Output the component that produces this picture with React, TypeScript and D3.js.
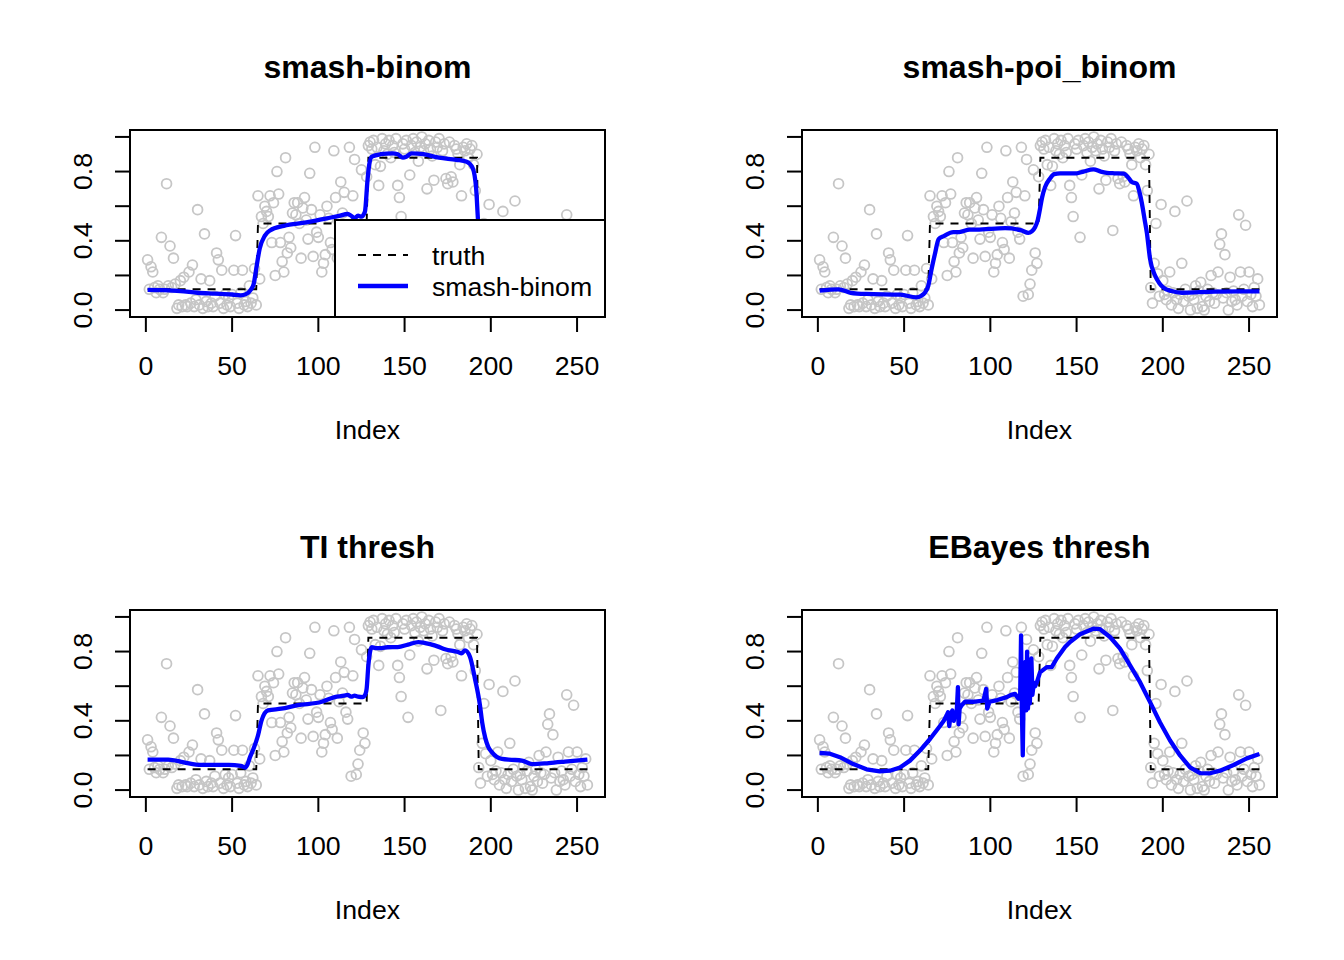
import React, { useEffect, useRef } from 'react'
import * as d3 from 'd3'

const obsBlock1 = [
  0.29, 0.12, 0.25, 0.22, 0.13, 0.10, 0.14, 0.12, 0.42, 0.10,
  0.12, 0.73, 0.14, 0.37, 0.13, 0.30, 0.15, 0.01, 0.03, 0.17,
  0.02, 0.19, 0.03, 0.02, 0.22, 0.04, 0.26, 0.02, 0.06, 0.58,
  0.03, 0.18, 0.01, 0.44, 0.05, 0.02, 0.17, 0.04, 0.02, 0.08,
  0.33, 0.29, 0.04, 0.23, 0.01, 0.09, 0.03, 0.07, 0.02, 0.09,
  0.23, 0.43, 0.04, 0.01, 0.10, 0.23, 0.03, 0.05, 0.02, 0.14,
  0.04, 0.07, 0.24, 0.03,
]
const obsBlock2 = [
  0.66, 0.18, 0.54, 0.50, 0.60, 0.57, 0.54, 0.66, 0.39, 0.62,
  0.20, 0.80, 0.67, 0.39, 0.28, 0.22, 0.88, 0.33, 0.42, 0.36,
  0.56, 0.62, 0.55, 0.62, 0.50, 0.30, 0.59, 0.65, 0.52, 0.41,
  0.79, 0.58, 0.31, 0.94, 0.45, 0.42, 0.55, 0.22, 0.27, 0.32,
  0.60, 0.53, 0.39, 0.35, 0.92, 0.65, 0.30, 0.51, 0.74, 0.56,
  0.68, 0.45, 0.41, 0.94, 0.08, 0.66, 0.87, 0.09, 0.15, 0.23,
  0.81, 0.33, 0.27, 0.77,
]
const obsBlock3 = [
  0.95, 0.97, 0.93, 0.98, 0.84, 0.94, 0.72, 0.83, 0.99, 0.92,
  0.96, 0.90, 0.98, 0.88, 0.95, 0.91, 0.99, 0.72, 0.65, 0.54,
  0.96, 0.93, 0.98, 0.42, 0.78, 0.95, 0.99, 0.91, 0.97, 0.86,
  0.94, 1.00, 0.92, 0.96, 0.70, 0.98, 0.93, 0.89, 0.75, 0.97,
  0.94, 0.99, 0.46, 0.92, 0.96, 0.76, 0.73, 0.97, 0.77, 0.74,
  0.95, 0.93, 0.90, 0.84, 0.66, 0.94, 0.92, 0.96, 0.88, 0.93,
  0.95, 0.84, 0.69, 0.90,
]
const obsBlock4 = [
  0.13, 0.04, 0.27, 0.50, 0.21, 0.08, 0.61, 0.17, 0.09, 0.06,
  0.11, 0.22, 0.03, 0.10, 0.57, 0.06, 0.01, 0.09, 0.27, 0.05,
  0.12, 0.63, 0.08, 0.00, 0.09, 0.06, 0.14, 0.01, 0.11, 0.16,
  0.02, 0.00, 0.08, 0.12, 0.05, 0.20, 0.10, 0.04, 0.09, 0.22,
  0.38, 0.44, 0.07, 0.32, 0.10, 0.00, 0.19, 0.05, 0.11, 0.06,
  0.03, 0.55, 0.22, 0.08, 0.12, 0.49, 0.05, 0.22, 0.09, 0.02,
  0.13, 0.08, 0.18, 0.03,
]
const observed = [...obsBlock1, ...obsBlock2, ...obsBlock3, ...obsBlock4]

// true step function: one level per block of 64
const truthLevels = [0.12, 0.5, 0.88, 0.12]
const blockSize = 64

const xTicks = [0, 50, 100, 150, 200, 250]
const yTicks = [0, 0.2, 0.4, 0.6, 0.8, 1.0]
const yLabels = [0, 0.4, 0.8]

// fitted curves as [index, value] knots
const fitSmashBinom: [number, number][] = [
  [1, 0.117], [10, 0.115], [20, 0.11], [30, 0.1], [40, 0.095], [50, 0.09], [55, 0.085],
  [58, 0.092], [61, 0.12], [62.5, 0.15], [64, 0.24], [66, 0.355], [69, 0.43], [72, 0.46],
  [80, 0.486], [93, 0.506], [105, 0.53], [112, 0.544], [117, 0.555], [119, 0.545],
  [121, 0.53], [123, 0.545], [125, 0.54], [127, 0.568], [128.5, 0.75], [129.5, 0.84],
  [131, 0.886], [136, 0.9], [143, 0.905], [146, 0.9], [149, 0.88], [151, 0.885],
  [154, 0.905], [161, 0.9], [170, 0.88], [180, 0.868], [186, 0.857], [189.5, 0.82],
  [191.5, 0.7], [192.5, 0.53], [194, 0.32], [197, 0.18], [202, 0.13], [212, 0.11],
  [230, 0.105], [256, 0.105],
]
const fitSmashPoiBinom: [number, number][] = [
  [1, 0.112], [12, 0.12], [19, 0.1], [28, 0.093], [48, 0.089], [57, 0.073], [60, 0.083],
  [62, 0.1], [64, 0.14], [66, 0.24], [68, 0.33], [70, 0.41], [73, 0.427], [78.5, 0.45],
  [82, 0.45], [88, 0.465], [92, 0.465], [108.5, 0.473], [118, 0.46], [122, 0.446],
  [124, 0.455], [126, 0.48], [127.5, 0.52], [128.8, 0.585], [130, 0.65], [131.7, 0.71],
  [134.6, 0.76], [137, 0.785], [140.4, 0.79], [150, 0.79], [154, 0.8], [159.8, 0.813],
  [164, 0.8], [167.5, 0.793], [172, 0.79], [177.2, 0.788], [180, 0.765], [182, 0.74],
  [184.9, 0.73], [186.5, 0.68], [187.8, 0.62], [189.5, 0.52], [190.7, 0.45],
  [192.6, 0.295], [195.5, 0.2], [198, 0.155], [200.4, 0.13], [205, 0.11], [211, 0.1],
  [230, 0.106], [256, 0.108],
]
const fitTIThresh: [number, number][] = [
  [1, 0.176], [13, 0.176], [22, 0.16], [32, 0.145], [48, 0.145], [55, 0.14], [57.5, 0.13],
  [59, 0.15], [60, 0.18], [62, 0.228], [65, 0.315], [67, 0.4], [70.8, 0.46], [78.5, 0.47],
  [88, 0.49], [102, 0.51], [109.5, 0.537], [115, 0.545], [117, 0.55], [119, 0.54],
  [121, 0.545], [123, 0.54], [125.9, 0.537], [127.5, 0.56], [128, 0.585], [129, 0.72],
  [130, 0.8], [131, 0.826], [133, 0.82], [136.7, 0.82], [140, 0.825], [146, 0.826],
  [152, 0.84], [158, 0.855], [165.7, 0.84], [169, 0.83], [173.4, 0.813], [181, 0.797],
  [183, 0.79], [185, 0.807], [187.9, 0.77], [190.8, 0.643], [193.7, 0.49], [195, 0.39],
  [196.8, 0.3], [198.5, 0.25], [200.7, 0.218], [206.5, 0.18], [212, 0.175], [218, 0.17],
  [224, 0.15], [233.6, 0.156], [243, 0.164], [256, 0.176],
]
const fitEBayesThresh: [number, number][] = [
  [1, 0.214], [7, 0.21], [12.8, 0.19], [20.5, 0.15], [28.2, 0.12], [35.9, 0.108],
  [41.8, 0.112], [47.6, 0.13], [53.4, 0.17], [59.2, 0.228], [65, 0.295], [70.8, 0.37],
  [73, 0.4], [74.6, 0.43], [75.5, 0.45], [76.2, 0.37], [77, 0.44], [78, 0.46],
  [78.8, 0.4], [79.5, 0.44], [80.5, 0.45], [81.2, 0.595], [81.6, 0.38], [82.2, 0.47],
  [83.4, 0.49], [85.3, 0.51], [90, 0.51], [96, 0.517], [97.6, 0.585], [98.2, 0.47],
  [99.5, 0.51], [104, 0.52], [109.5, 0.537], [112, 0.55], [114.3, 0.556], [116.3, 0.527],
  [117.3, 0.55], [117.8, 0.894], [118.2, 0.5], [118.8, 0.2], [119.3, 0.55], [119.8, 0.47],
  [120.3, 0.74], [120.8, 0.46], [121.3, 0.8], [121.8, 0.47], [122.4, 0.6], [122.9, 0.5],
  [123.8, 0.76], [124.4, 0.55], [125.2, 0.62], [126, 0.6], [126.9, 0.62], [128.8, 0.68],
  [132.7, 0.71], [135.6, 0.71], [138.5, 0.76], [143.3, 0.826], [146.2, 0.855], [152, 0.9],
  [159.7, 0.932], [163.6, 0.929], [169.4, 0.884], [175.2, 0.817], [181, 0.72],
  [186.8, 0.623], [192.6, 0.508], [198.4, 0.39], [204.2, 0.286], [210, 0.2],
  [215.8, 0.131], [221.6, 0.098], [227.4, 0.097], [233.2, 0.112], [241, 0.145],
  [248.7, 0.183], [256, 0.208],
]

const panelTitles = ['smash-binom', 'smash-poi_binom', 'TI thresh', 'EBayes thresh']
const panelFits = [fitSmashBinom, fitSmashPoiBinom, fitTIThresh, fitEBayesThresh]

const FONT = 'Liberation Sans, Arial, sans-serif'

export default function App() {
  const ref = useRef<SVGSVGElement | null>(null)

  useEffect(() => {
    const svg = d3.select(ref.current!)
    svg.selectAll('*').remove()

    const truth: [number, number][] = observed.map((_, i) => [i + 1, truthLevels[Math.floor(i / blockSize)]])
    const w = 475
    const h = 187

    panelTitles.forEach((title, k) => {
      const left = k % 2 === 0 ? 130 : 802
      const top = k < 2 ? 130 : 610
      const x = d3.scaleLinear().domain([-9.2, 266.2]).range([left, left + w])
      const y = d3.scaleLinear().domain([-0.04, 1.04]).range([top + h, top])
      const g = svg.append('g')
      const cx = left + w / 2

      g.append('g').selectAll('circle').data(observed).enter().append('circle')
        .attr('cx', (_, i) => x(i + 1))
        .attr('cy', d => y(d))
        .attr('r', 4.9)
        .attr('fill', 'none')
        .attr('stroke', '#c6c6c6')
        .attr('stroke-width', 1.8)

      const line = d3.line<[number, number]>().x(d => x(d[0])).y(d => y(d[1]))
      g.append('path').attr('d', line(truth)).attr('fill', 'none')
        .attr('stroke', '#000').attr('stroke-width', 1.9).attr('stroke-dasharray', '8 7')

      const fitLine = k === 3 ? line : line.curve(d3.curveMonotoneX)
      g.append('path').attr('d', fitLine(panelFits[k])).attr('fill', 'none')
        .attr('stroke', '#0000ff').attr('stroke-width', 4.3).attr('stroke-linejoin', 'round')

      g.append('rect').attr('x', left).attr('y', top).attr('width', w).attr('height', h)
        .attr('fill', 'none').attr('stroke', '#000').attr('stroke-width', 2)

      // x axis
      const base = top + h
      g.append('g').selectAll('line').data(xTicks).enter().append('line')
        .attr('x1', d => x(d)).attr('x2', d => x(d)).attr('y1', base).attr('y2', base + 15)
        .attr('stroke', '#000').attr('stroke-width', 2)
      g.append('g').selectAll('text').data(xTicks).enter().append('text')
        .attr('x', d => x(d)).attr('y', base + 57.5)
        .attr('text-anchor', 'middle').attr('font-family', FONT).attr('font-size', 26.7)
        .text(d => String(d))

      // y axis
      g.append('g').selectAll('line').data(yTicks).enter().append('line')
        .attr('x1', left - 15).attr('x2', left).attr('y1', d => y(d)).attr('y2', d => y(d))
        .attr('stroke', '#000').attr('stroke-width', 2)
      g.append('g').selectAll('text').data(yLabels).enter().append('text')
        .attr('transform', d => `translate(${left - 38},${y(d)}) rotate(-90)`)
        .attr('text-anchor', 'middle').attr('font-family', FONT).attr('font-size', 26.7)
        .text(d => d3.format('.1f')(d))

      g.append('text').attr('x', cx).attr('y', top - 52).attr('text-anchor', 'middle')
        .attr('font-family', FONT).attr('font-size', 32).attr('font-weight', 700).text(title)
      g.append('text').attr('x', cx).attr('y', base + 121.5).attr('text-anchor', 'middle')
        .attr('font-family', FONT).attr('font-size', 26.7).text('Index')

      if (k === 0) {
        const lg = svg.append('g')
        lg.append('rect').attr('x', 335).attr('y', 220).attr('width', left + w - 335).attr('height', base - 220)
          .attr('fill', '#fff').attr('stroke', '#000').attr('stroke-width', 2)
        lg.append('line').attr('x1', 358).attr('x2', 408).attr('y1', 255).attr('y2', 255)
          .attr('stroke', '#000').attr('stroke-width', 1.9).attr('stroke-dasharray', '8 7')
        lg.append('line').attr('x1', 358).attr('x2', 408).attr('y1', 286).attr('y2', 286)
          .attr('stroke', '#0000ff').attr('stroke-width', 4.3)
        lg.append('text').attr('x', 432).attr('y', 265).attr('font-family', FONT).attr('font-size', 26.7).text('truth')
        lg.append('text').attr('x', 432).attr('y', 296).attr('font-family', FONT).attr('font-size', 26.7).text('smash-binom')
      }
    })
  }, [])

  return (
    <svg ref={ref} width={1344} height={960}
      style={{ position: 'absolute', left: 0, top: 0, background: '#fff' }} />
  )
}
